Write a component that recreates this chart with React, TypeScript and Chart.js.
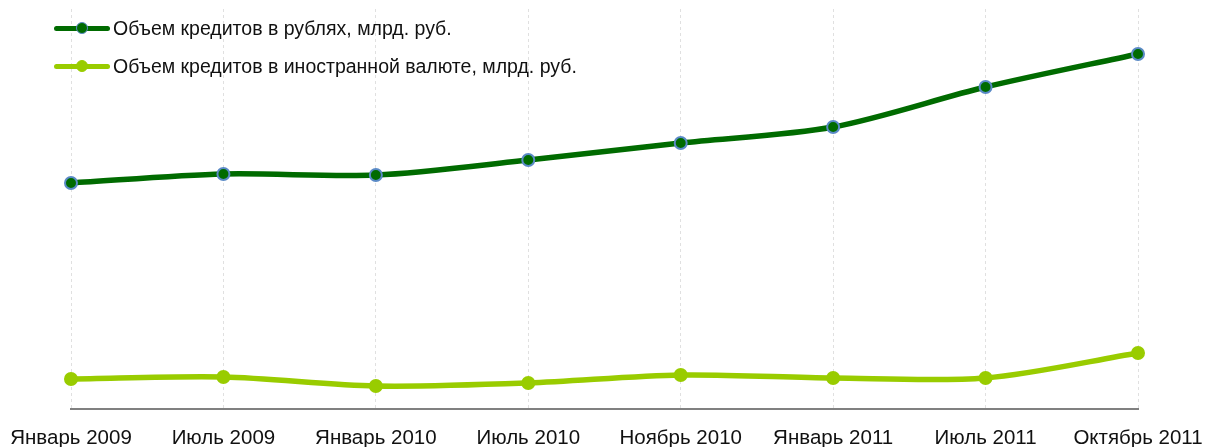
import React, { useEffect, useRef } from "react";
import { Chart, registerables } from "chart.js";

Chart.register(...registerables);

const categories = [
  "Январь 2009",
  "Июль 2009",
  "Январь 2010",
  "Июль 2010",
  "Ноябрь 2010",
  "Январь 2011",
  "Июль 2011",
  "Октябрь 2011",
];

const rubLabel = "Объем кредитов в рублях, млрд. руб.";
const fxLabel = "Объем кредитов в иностранной валюте, млрд. руб.";

const rubValues = [11300, 11750, 11700, 12450, 13300, 14100, 16100, 17750];
const fxValues = [1500, 1600, 1150, 1300, 1700, 1550, 1550, 2800];

const darkGreen = "#006B00";
const lightGreen = "#99CC00";
const pointEdge = "#5A8AC6";
const FONT = "'Liberation Sans', Arial, sans-serif";

function LegendRow({ color, border, text, top }: { color: string; border: string; text: string; top: number }) {
  return (
    <div style={{ position: "absolute", left: 54, top, height: 24, display: "flex", alignItems: "center" }}>
      <div style={{ position: "relative", width: 56, height: 24 }}>
        <div style={{ position: "absolute", left: 0, top: 9.5, width: 56, height: 5.5, background: color, borderRadius: 2.5 }} />
        <div
          style={{
            position: "absolute",
            left: 21.5,
            top: 5.5,
            width: 10,
            height: 10,
            borderRadius: "50%",
            background: color,
            border: `1.5px solid ${border}`,
          }}
        />
      </div>
      <span style={{ fontFamily: FONT, fontSize: 19.5, color: "#111", marginLeft: 3, whiteSpace: "nowrap" }}>{text}</span>
    </div>
  );
}

export default function App() {
  const ref = useRef<HTMLCanvasElement | null>(null);
  useEffect(() => {
    document.body.style.margin = "0";
    if (!ref.current) return;
    const chart = new Chart(ref.current, {
      type: "line",
      data: {
        labels: categories,
        datasets: [
          {
            label: rubLabel,
            data: rubValues,
            borderColor: darkGreen,
            backgroundColor: darkGreen,
            pointBackgroundColor: darkGreen,
            pointBorderColor: pointEdge,
            pointBorderWidth: 2,
            pointRadius: 6,
            borderWidth: 5.5,
            tension: 0.3,
            fill: false,
          },
          {
            label: fxLabel,
            data: fxValues,
            borderColor: lightGreen,
            backgroundColor: lightGreen,
            pointBackgroundColor: lightGreen,
            pointBorderColor: lightGreen,
            pointBorderWidth: 2,
            pointRadius: 6,
            borderWidth: 5.5,
            tension: 0.3,
            fill: false,
          },
        ],
      },
      options: {
        responsive: false,
        animation: false,
        layout: { padding: { left: 71, right: 67, top: 9, bottom: 0 } },
        plugins: { legend: { display: false }, tooltip: { enabled: false } },
        scales: {
          x: {
            offset: false,
            afterFit: (s: any) => {
              s.height = 38;
              s.paddingLeft = 0;
              s.paddingRight = 0;
            },
            grid: {
              display: true,
              color: "#E0E0E0",
              lineWidth: 1,
              drawTicks: false,
              tickLength: 0,
            },
            border: { display: true, color: "#808080", width: 2, dash: [3, 3] },
            ticks: {
              color: "#111",
              font: { family: FONT, size: 20.5 },
              padding: 17,
              maxRotation: 0,
              autoSkip: false,
            },
          },
          y: {
            display: false,
            min: 0,
            max: 20000,
          },
        },
      },
    });
    return () => chart.destroy();
  }, []);
  return (
    <div style={{ position: "relative", width: 1205, height: 447 }}>
      <canvas ref={ref} width={1205} height={447} style={{ display: "block" }} />
      <LegendRow color={darkGreen} border={pointEdge} text={rubLabel} top={16} />
      <LegendRow color={lightGreen} border={lightGreen} text={fxLabel} top={54} />
    </div>
  );
}
